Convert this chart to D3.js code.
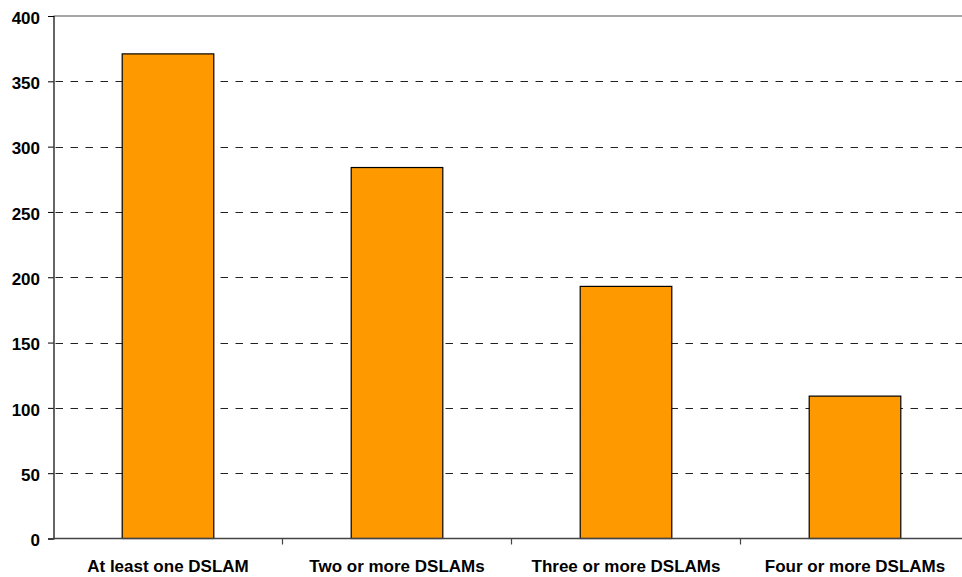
<!DOCTYPE html>
<html>
<head>
<meta charset="utf-8">
<script src="https://cdn.jsdelivr.net/npm/d3@7"></script>
<style>
  html, body { margin: 0; padding: 0; background: #fff; overflow: hidden; }
  svg { display: block; }
  .tick text { font-family: "Liberation Sans", Arial, sans-serif; font-weight: bold; font-size: 17px; fill: #000; }
</style>
</head>
<body>
<svg id="chart" width="962" height="577"></svg>
<script>
// Number of subscribers served by N or more DSLAMs
const categories = ["At least one DSLAM", "Two or more DSLAMs", "Three or more DSLAMs", "Four or more DSLAMs"];
const counts = [371, 284, 193, 109];
const yTicks = [0, 50, 100, 150, 200, 250, 300, 350, 400];

const svg = d3.select("#chart");
const plot = { left: 53.5, top: 16, right: 969.5, bottom: 538.5 };

const x = d3.scaleBand()
  .domain(categories)
  .range([plot.left, plot.right])
  .paddingInner(0.6)
  .paddingOuter(0.3);

const y = d3.scaleLinear()
  .domain([0, 400])
  .range([plot.bottom, plot.top]);

// dashed horizontal gridlines
svg.append("g")
  .selectAll("line")
  .data(yTicks.filter(v => v > 0 && v < 400))
  .join("line")
  .attr("x1", plot.left)
  .attr("x2", plot.right)
  .attr("y1", d => Math.round(y(d)) + 0.5)
  .attr("y2", d => Math.round(y(d)) + 0.5)
  .attr("stroke", "#222")
  .attr("stroke-width", 1)
  .attr("stroke-dasharray", "7.5,7.5")
  .attr("stroke-dashoffset", -2);

// plot area top border
svg.append("line")
  .attr("x1", plot.left).attr("x2", plot.right)
  .attr("y1", y(400)).attr("y2", y(400))
  .attr("stroke", "#888").attr("stroke-width", 1.6);

// bars
svg.append("g")
  .selectAll("rect")
  .data(categories.map((c, i) => ({ c, v: counts[i] })))
  .join("rect")
  .attr("x", d => x(d.c))
  .attr("y", d => y(d.v))
  .attr("width", x.bandwidth())
  .attr("height", d => y(0) - y(d.v))
  .attr("fill", "#FF9900")
  .attr("stroke", "#000")
  .attr("stroke-width", 1.2);

// y axis
const yAxis = svg.append("g")
  .attr("transform", `translate(${plot.left},0)`)
  .call(d3.axisLeft(y).tickValues(yTicks).tickSize(5.5).tickPadding(8).tickFormat(d3.format("d")));
yAxis.select(".domain").attr("stroke", "#000").attr("stroke-width", 1.2);
yAxis.selectAll(".tick line").attr("stroke", "#000");
yAxis.selectAll(".tick text").attr("dy", "0.42em");

// x axis with tick marks between categories
const xAxisG = svg.append("g")
  .attr("transform", `translate(0,${plot.bottom})`);
const step = x.step();
const xPos = d3.scaleLinear().domain([0, categories.length]).range([plot.left, plot.right]);
xAxisG.append("line")
  .attr("x1", plot.left).attr("x2", plot.right)
  .attr("stroke", "#444").attr("stroke-width", 1.7);
xAxisG.selectAll(".sep")
  .data(d3.range(1, categories.length + 1))
  .join("line")
  .attr("x1", d => Math.round(xPos(d)) - 0.5)
  .attr("x2", d => Math.round(xPos(d)) - 0.5)
  .attr("y1", 0).attr("y2", 6)
  .attr("stroke", "#444").attr("stroke-width", 1.2);
const xAxis = svg.append("g")
  .attr("transform", `translate(0,${plot.bottom})`)
  .call(d3.axisBottom(x).tickSize(0).tickPadding(22));
xAxis.select(".domain").remove();
xAxis.selectAll(".tick text").attr("dy", "0.71em").attr("y", 21.5);
</script>
</body>
</html>
